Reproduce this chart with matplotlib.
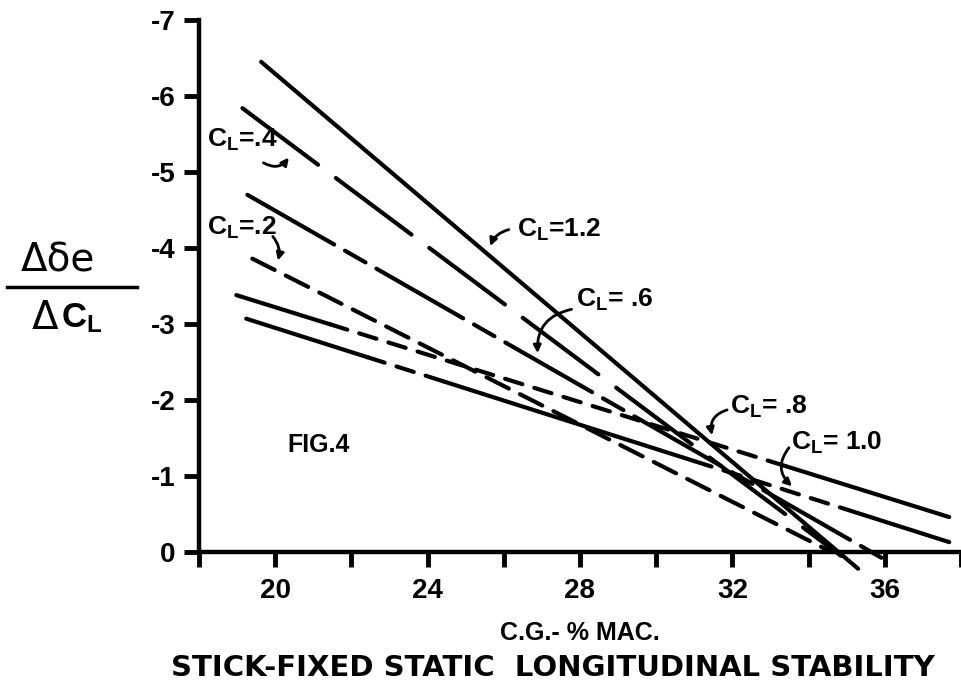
import matplotlib
matplotlib.use("Agg")
import matplotlib.pyplot as plt
import numpy as np

# --- DATA ---
CL_LABELS = ['1.2', '.4', '.6', '.2', '.8', '1.0']
X_START = [19.63, 19.14, 19.27, 19.40, 18.98, 19.24]
Y_START = [-6.45, -5.84, -4.70, -3.86, -3.38, -3.07]
X_END = [35.30, 34.85, 36.10, 34.60, 37.69, 37.69]
Y_END = [0.22, 0.05, 0.13, 0.00, -0.46, -0.13]

X_TICKS = [20, 24, 28, 32, 36]
X_MINOR = [18, 22, 26, 30, 34, 38]
Y_TICKS = [0, -1, -2, -3, -4, -5, -6, -7]
Y_TICK_LABELS = ['0', '-1', '-2', '-3', '-4', '-5', '-6', '-7']

# --- STYLE ---
# dash patterns in points (scale_dashes off)
DASH = {
    'solid': '-',
    'long': (0, (68, 16)),
    'longshort': (0, (72, 9, 17, 9)),
    'short': (0, (18, 9)),
    'fine': (0, (13, 9)),
}
# pieces of each line: (x from, x to, dash key)
PIECES = {
    '1.2': [(19.63, 35.30, 'solid')],
    '.4': [(19.14, 34.85, 'long')],
    '.6': [(19.27, 36.10, 'longshort')],
    '.2': [(19.40, 34.60, 'short')],
    '.8': [(18.98, 21.44, 'solid'), (21.44, 33.40, 'fine'), (33.40, 37.69, 'solid')],
    '1.0': [(19.24, 22.42, 'solid'), (22.42, 24.40, 'fine'), (24.40, 31.00, 'solid'),
            (31.00, 34.95, 'fine'), (34.95, 37.69, 'solid')],
}
# label text, position and arrow (start, tip, curvature) in data units
LABEL_POS = {
    '.4': ('=.4', 18.21, -5.42, (19.63, -5.14), (20.40, -5.22), 0.5),
    '.2': ('=.2', 18.21, -4.26, (19.89, -4.18), (20.05, -3.80), -0.3),
    '1.2': ('=1.2', 26.35, -4.24, (26.20, -4.25), (25.62, -3.99), 0.3),
    '.6': ('= .6', 27.90, -3.32, (27.85, -3.20), (26.89, -2.58), 0.45),
    '.8': ('= .8', 31.93, -1.91, (31.93, -1.88), (31.48, -1.50), 0.5),
    '1.0': ('= 1.0', 33.53, -1.43, (33.53, -1.40), (33.62, -0.84), 0.5),
}

plt.rcParams['font.family'] = ['Liberation Sans', 'DejaVu Sans']
plt.rcParams['font.weight'] = 'bold'
plt.rcParams['mathtext.fontset'] = 'custom'
plt.rcParams['mathtext.rm'] = 'Liberation Sans:bold'
plt.rcParams['mathtext.it'] = 'Liberation Sans:bold'
plt.rcParams['mathtext.bf'] = 'Liberation Sans:bold'
plt.rcParams['lines.scale_dashes'] = False

fig = plt.figure(figsize=(9.61, 6.90), dpi=100)
ax = fig.add_axes([199 / 961, 138 / 690, 762 / 961, 532 / 690])
ax.set_xlim(18, 37.69)
ax.set_ylim(0, -7)

for lab, x0, y0, x1, y1 in zip(CL_LABELS, X_START, Y_START, X_END, Y_END):
    slope = (y1 - y0) / (x1 - x0)
    for xa, xb, key in PIECES[lab]:
        xs = np.array([xa, xb])
        ys = y0 + slope * (xs - x0)
        ax.plot(xs, ys, color='black', lw=3.0, linestyle=DASH[key],
                solid_capstyle='round', dash_capstyle='round', clip_on=False)

for lab in CL_LABELS:
    txt, tx, ty, start, tip, rad = LABEL_POS[lab]
    ax.text(tx, ty, r'$\mathrm{C_L}$' + txt, fontsize=19, fontweight='bold',
            ha='left', va='center')
    ax.annotate('', xy=tip, xytext=start,
                arrowprops=dict(arrowstyle='-|>', color='black', lw=2.0,
                                mutation_scale=11,
                                connectionstyle='arc3,rad=%s' % rad))

ax.text(21.13, -1.41, 'FIG.4', fontsize=18, fontweight='bold', ha='center', va='center')

# axes
for s in ['top', 'right']:
    ax.spines[s].set_visible(False)
for s in ['left', 'bottom']:
    ax.spines[s].set_linewidth(3.2)
ax.set_xticks(X_TICKS)
ax.set_xticklabels([str(v) for v in X_TICKS], fontsize=20, fontweight='bold')
ax.set_xticks(X_MINOR, minor=True)
ax.set_yticks(Y_TICKS)
ax.set_yticklabels(Y_TICK_LABELS, fontsize=20, fontweight='bold')
ax.tick_params(axis='both', which='both', direction='out', length=11, width=3.5, pad=8)
ax.tick_params(axis='y', pad=6)

ax.set_xlabel('C.G.- % MAC.', fontsize=18, fontweight='bold', labelpad=12)

# y label as a fraction
fig.text(58 / 961, 1 - 260 / 690, '\u0394\u03b4e', fontsize=28, ha='center', va='center',
         fontweight='normal', family='DejaVu Sans')
fig.text(58 / 961, 1 - 318 / 690, '\u0394', fontsize=28, ha='right', va='center',
         fontweight='normal', family='DejaVu Sans')
fig.text(61 / 961, 1 - 318 / 690, r'$\mathrm{C_L}$', fontsize=25, ha='left', va='center')
fig.add_artist(plt.Line2D([7 / 961, 137 / 961], [1 - 287 / 690, 1 - 287 / 690],
                          color='black', lw=2.5))

fig.text(553 / 961, 1 - 668 / 690, 'STICK-FIXED STATIC  LONGITUDINAL STABILITY',
         fontsize=21, fontweight='bold', ha='center', va='center', family='DejaVu Sans')

fig.savefig('out.png', dpi=100)
